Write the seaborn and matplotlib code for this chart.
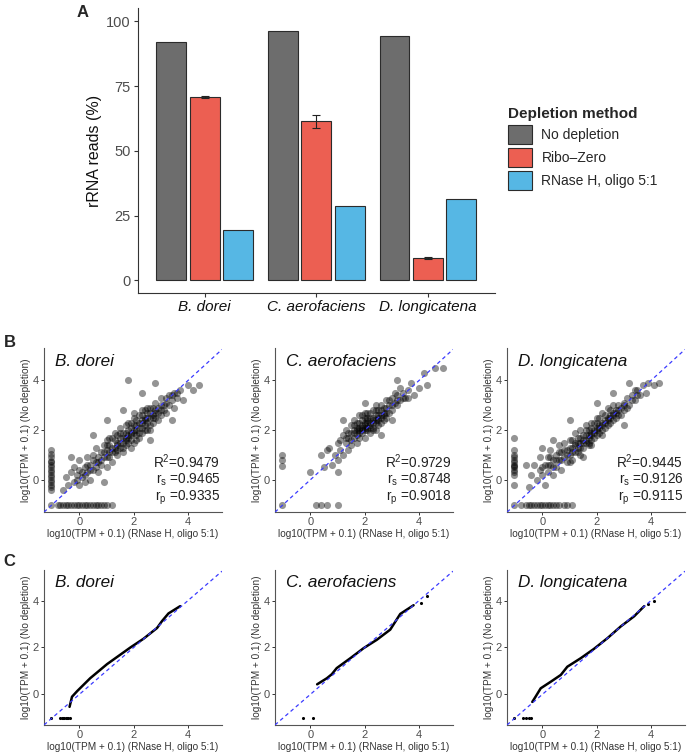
import numpy as np
import pandas as pd
import seaborn as sns
import matplotlib.pyplot as plt
from matplotlib.patches import Patch

sns.set_theme(style='ticks')
plt.rcParams['font.family'] = ['Liberation Sans', 'DejaVu Sans']
plt.rcParams['mathtext.fontset'] = 'custom'
plt.rcParams['mathtext.rm'] = 'Liberation Sans'
plt.rcParams['mathtext.it'] = 'Liberation Sans:italic'

# ---- Panel A data
species = ['B. dorei', 'C. aerofaciens', 'D. longicatena']
methods = ['No depletion', 'Ribo\u2013Zero', 'RNase H, oligo 5:1']
no_depl = [92.0, 96.2, 94.2]
ribo_zero = [70.8, 61.3, 8.7]
ribo_zero_err = [0.5, 2.7, 0.4]
rnase_h = [19.6, 28.8, 31.4]
colors = ['#6d6d6d', '#ec5f52', '#56b7e4']

# ---- Panel B data (read approx. from the picture)
bd_x = [-0.6, -0.5, -0.4, -0.3, -0.2, -0.2, -0.1, 0.0, 0.0, 0.0, 0.1, 0.2, 0.2, 0.3, 0.3, 0.4, 0.4, 0.5, 0.5, 0.6,
        0.6, 0.7, 0.7, 0.8, 0.8, 0.9, 0.9, 1.0, 1.0, 1.0, 1.1, 1.1, 1.2, 1.2, 1.2, 1.3, 1.3, 1.4, 1.4, 1.4,
        1.5, 1.5, 1.5, 1.6, 1.6, 1.6, 1.7, 1.7, 1.7, 1.8, 1.8, 1.8, 1.9, 1.9, 1.9, 2.0, 2.0, 2.0, 2.1, 2.1,
        2.1, 2.2, 2.2, 2.2, 2.3, 2.3, 2.3, 2.4, 2.4, 2.4, 2.5, 2.5, 2.5, 2.6, 2.6, 2.6, 2.7, 2.7, 2.8, 2.8,
        2.8, 2.9, 2.9, 3.0, 3.0, 3.0, 3.1, 3.2, 3.2, 3.3, 3.3, 3.4, 3.5, 3.5, 3.6, 3.7, 3.8, 4.0, 4.2, 4.4,
        1.8, 2.8, 1.0, 0.5, 2.3, 3.4, -0.3, 1.6, 2.6, 0.9,
        -1.05, -1.05, -1.05, -1.05, -1.05, -1.05, -1.05, -1.05, -1.05, -1.05, -1.05, -1.05, -1.05, -1.05, -1.05, -1.05,
        -0.8, -0.7, -0.6, -0.5, -0.4, -0.3, -0.2, -0.1, 0.0, 0.1, 0.2, 0.3, 0.4, 0.5, 0.6, 0.7, 0.8, 0.9, 1.0, 1.2, -1.05]
bd_y = [-0.4, 0.1, -0.2, 0.3, -0.1, 0.5, 0.2, -0.2, 0.4, 0.8, 0.1, 0.5, -0.1, 0.9, 0.3, 0.6, 0.0, 1.0, 0.4, 0.7,
        1.3, 0.3, 0.9, 1.1, 0.6, 1.4, 0.9, 0.5, 1.2, 1.6, 0.9, 1.4, 1.1, 1.7, 0.7, 1.3, 1.9, 1.0, 1.5, 1.2,
        1.7, 1.3, 2.1, 1.5, 1.1, 1.9, 1.7, 2.2, 1.4, 1.8, 1.5, 2.3, 1.9, 1.6, 2.1, 2.0, 1.5, 2.5, 2.2, 1.8,
        2.0, 2.3, 1.7, 2.6, 2.1, 2.4, 1.9, 2.5, 2.2, 2.8, 2.3, 2.0, 2.7, 2.5, 2.9, 2.2, 2.6, 2.3, 2.8, 2.5,
        3.1, 2.7, 2.4, 3.0, 2.6, 3.3, 2.8, 3.1, 2.7, 3.4, 3.0, 3.2, 3.5, 2.9, 3.3, 3.6, 3.2, 3.8, 3.6, 3.8,
        4.0, 3.9, 2.4, 1.8, 3.5, 2.4, 0.9, 2.8, 1.6, -0.1,
        -0.4, -0.3, -0.2, -0.1, 0.0, 0.1, 0.2, 0.3, 0.4, 0.5, 0.6, 0.7, 0.75, 0.9, 1.05, 1.2,
        -1.0, -1.0, -1.0, -1.0, -1.0, -1.0, -1.0, -1.0, -1.0, -1.0, -1.0, -1.0, -1.0, -1.0, -1.0, -1.0, -1.0, -1.0, -1.0, -1.0, -1.0]
bd_core_x = [0.2, 0.4, 0.6, 0.7, 0.8, 0.9, 1.0, 1.1, 1.2, 1.3, 1.3, 1.4, 1.5, 1.5, 1.6, 1.6, 1.7, 1.7, 1.8, 1.8,
             1.9, 1.9, 2.0, 2.0, 2.1, 2.1, 2.2, 2.2, 2.3, 2.3, 2.4, 2.4, 2.5, 2.5, 2.6, 2.6, 2.7, 2.7, 2.8, 2.9,
             3.0, 3.1, 3.2, 3.4, 3.6, 1.1, 0.5, 0.3, 1.4, 2.0, 0.1, -0.1, 1.9, 2.3, 1.0]
bd_core_y = [0.2, 0.4, 0.5, 0.7, 0.8, 1.1, 0.9, 1.1, 1.3, 1.1, 1.6, 1.4, 1.5, 1.9, 1.7, 1.3, 1.6, 1.9, 2.0, 1.7,
             1.8, 2.3, 2.2, 1.9, 2.4, 1.6, 2.1, 1.9, 2.3, 2.6, 2.4, 2.0, 2.5, 2.9, 2.7, 2.0, 2.9, 2.5, 2.7, 2.9,
             2.8, 3.0, 3.3, 3.4, 3.5, 1.7, 0.8, 0.6, 1.8, 2.7, 0.3, 0.0, 1.3, 2.8, 1.4]

ca_x = [0.0, 0.5, 0.4, 0.7, 0.8, 0.9, 1.0, 1.0, 1.1, 1.2, 1.2, 1.3, 1.3, 1.4, 1.4, 1.5, 1.5, 1.5, 1.6, 1.6,
        1.6, 1.7, 1.7, 1.7, 1.8, 1.8, 1.8, 1.8, 1.9, 1.9, 1.9, 2.0, 2.0, 2.0, 2.0, 2.1, 2.1, 2.1, 2.2, 2.2,
        2.2, 2.3, 2.3, 2.3, 2.4, 2.4, 2.4, 2.5, 2.5, 2.5, 2.6, 2.6, 2.6, 2.7, 2.7, 2.8, 2.8, 2.8, 2.9, 2.9,
        3.0, 3.0, 3.1, 3.1, 3.2, 3.2, 3.3, 3.3, 3.4, 3.5, 3.6, 3.7, 3.8, 4.0, 4.3, 4.6, 4.9, 4.2, 3.2, 1.2,
        2.0, 3.0, 0.6, 1.0, 2.6,
        -1.05, -1.05, -1.05, 0.2, 0.4, 0.6, 1.0, -1.05]
ca_y = [0.3, 0.5, 1.0, 1.3, 0.6, 1.0, 1.5, 0.8, 1.2, 1.8, 1.0, 1.5, 2.0, 1.2, 1.7, 1.9, 1.4, 2.2, 1.7, 2.0,
        2.4, 1.8, 2.1, 1.5, 2.0, 2.3, 1.7, 2.6, 2.1, 1.9, 2.4, 2.2, 2.0, 2.5, 1.7, 2.3, 2.1, 2.7, 2.2, 2.5,
        1.9, 2.4, 2.1, 2.8, 2.3, 2.6, 2.0, 2.5, 2.8, 2.2, 2.6, 3.0, 2.3, 2.7, 2.4, 2.9, 3.2, 2.5, 3.0, 2.7,
        3.3, 2.8, 3.1, 3.5, 3.0, 3.4, 3.2, 3.7, 3.5, 3.3, 3.6, 3.9, 3.4, 3.7, 3.8, 4.5, 4.5, 4.3, 4.0, 2.4,
        3.1, 2.4, 1.2, 0.3, 1.8,
        0.55, 0.8, 1.0, -1.0, -1.0, -1.0, -1.0, -1.0]
ca_core_x = [1.5, 1.6, 1.7, 1.7, 1.8, 1.8, 1.9, 1.9, 2.0, 2.0, 2.1, 2.1, 2.1, 2.2, 2.2, 2.2, 2.3, 2.3, 2.4, 2.4,
             2.5, 2.5, 2.6, 2.6, 2.7, 2.7, 2.8, 2.9, 3.0, 3.2, 1.4, 1.6, 1.9, 2.0, 2.3, 1.3, 1.1, 2.4, 3.4, 3.6]
ca_core_y = [1.6, 1.9, 2.0, 2.3, 2.1, 1.9, 2.2, 2.6, 2.3, 2.1, 2.4, 2.0, 2.5, 2.3, 2.1, 2.7, 2.5, 2.3, 2.4, 2.8,
             2.6, 2.4, 2.8, 2.5, 2.9, 2.6, 2.7, 3.2, 3.0, 3.2, 1.9, 2.2, 2.0, 2.7, 2.0, 1.7, 1.6, 3.0, 3.3, 3.3]

dl_x = [-0.5, -0.4, -0.3, -0.2, -0.1, -0.1, 0.0, 0.1, 0.1, 0.2, 0.2, 0.3, 0.3, 0.4, 0.4, 0.5, 0.5, 0.6, 0.6, 0.7,
        0.7, 0.8, 0.8, 0.9, 0.9, 1.0, 1.0, 1.1, 1.1, 1.2, 1.2, 1.2, 1.3, 1.3, 1.4, 1.4, 1.4, 1.5, 1.5, 1.6,
        1.6, 1.6, 1.7, 1.7, 1.7, 1.8, 1.8, 1.8, 1.9, 1.9, 2.0, 2.0, 2.0, 2.1, 2.1, 2.2, 2.2, 2.2, 2.3, 2.3,
        2.4, 2.4, 2.4, 2.5, 2.5, 2.6, 2.6, 2.7, 2.7, 2.8, 2.8, 2.9, 3.0, 3.0, 3.1, 3.2, 3.3, 3.4, 3.5, 3.6,
        3.7, 3.8, 3.9, 4.1, 4.3, 3.2, 2.6, 1.0, 0.4, 3.0, 2.0, 1.5, 0.0, -0.6,
        -1.05, -1.05, -1.05, -1.05, -1.05, -1.05, -1.05, -1.05, -1.05, -1.05, -1.05, -1.05, -1.05, -1.05,
        -0.8, -0.6, -0.5, -0.4, -0.3, -0.2, -0.1, 0.0, 0.1, 0.2, 0.3, 0.4, 0.5, 0.6, 0.8, 0.9, 1.1]
dl_y = [-0.3, 0.2, 0.6, 0.0, 0.4, 0.9, 0.2, 0.6, -0.2, 0.9, 0.3, 0.6, 1.2, 0.2, 0.8, 1.0, 0.5, 1.4, 0.8, 1.1,
        0.4, 0.9, 1.5, 1.2, 0.7, 1.0, 1.6, 1.3, 0.8, 1.5, 1.1, 1.9, 1.3, 1.7, 1.5, 1.0, 2.0, 1.6, 1.3, 1.8,
        1.5, 2.2, 1.7, 1.4, 2.0, 1.9, 1.6, 2.3, 2.0, 1.7, 2.1, 1.8, 2.5, 2.2, 1.9, 2.3, 2.0, 2.7, 2.4, 2.1,
        2.5, 2.2, 2.9, 2.6, 2.3, 2.7, 2.4, 2.8, 2.5, 3.0, 2.6, 2.9, 3.1, 2.8, 3.3, 3.0, 3.4, 3.2, 3.6, 3.4,
        3.8, 3.5, 3.9, 3.8, 3.9, 3.9, 3.5, 2.4, 1.6, 2.2, 3.1, 0.9, 1.3, 0.6,
        0.2, 0.3, 0.4, 0.5, 0.55, 0.6, 0.7, 0.8, 0.9, 1.0, 1.2, 1.7, -0.2, -1.0,
        -1.0, -1.0, -1.0, -1.0, -1.0, -1.0, -1.0, -1.0, -1.0, -1.0, -1.0, -1.0, -1.0, -1.0, -1.0, -1.0, -1.0]
dl_core_x = [0.0, 0.2, 0.4, 0.5, 0.6, 0.7, 0.8, 0.9, 1.0, 1.1, 1.1, 1.2, 1.3, 1.3, 1.4, 1.4, 1.5, 1.5, 1.6, 1.6,
             1.7, 1.7, 1.8, 1.8, 1.9, 1.9, 2.0, 2.0, 2.1, 2.1, 2.2, 2.2, 2.3, 2.3, 2.4, 2.5, 2.5, 2.6, 2.7, 2.8,
             2.9, 3.0, 3.1, 3.3, 3.5, 0.3, 1.0, 1.8, 2.6, 3.4]
dl_core_y = [0.5, 0.6, 0.5, 0.8, 1.1, 0.8, 1.2, 1.0, 1.3, 1.1, 1.6, 1.4, 1.5, 1.1, 1.7, 1.3, 1.8, 1.5, 1.6, 2.0,
             1.8, 1.5, 2.1, 1.8, 1.9, 2.3, 2.0, 2.3, 2.1, 2.5, 2.2, 1.8, 2.6, 2.3, 2.4, 2.5, 2.8, 2.6, 2.7, 2.8,
             2.6, 3.0, 2.9, 3.2, 3.4, 0.9, 0.7, 1.4, 3.0, 3.6]

stats_text = [('0.9479', '0.9465', '0.9335'), ('0.9729', '0.8748', '0.9018'), ('0.9445', '0.9126', '0.9115')]

# ---- Panel C data (quantile-quantile curves)
qq_bd_x = [-0.36, -0.27, -0.08, 0.4, 1.02, 1.88, 2.36, 2.86, 3.04, 3.28, 3.71]
qq_bd_y = [-0.53, -0.1, 0.14, 0.69, 1.29, 2.0, 2.37, 2.83, 3.12, 3.45, 3.76]
qq_bd_dots_x = [-1.05, -0.7, -0.65, -0.6, -0.55, -0.5, -0.45, -0.4, -0.35]
qq_bd_dots_y = [-1.0, -1.0, -1.0, -1.0, -1.0, -1.0, -1.0, -1.0, -1.0]
qq_ca_x = [0.25, 0.61, 0.79, 0.97, 1.47, 1.96, 2.45, 2.94, 3.31, 3.8]
qq_ca_y = [0.43, 0.69, 0.86, 1.12, 1.54, 1.97, 2.33, 2.76, 3.43, 3.8]
qq_ca_dots_x = [-0.27, 0.1, 4.06, 4.3]
qq_ca_dots_y = [-1.0, -1.0, 3.9, 4.2]
qq_dl_x = [-0.37, -0.25, -0.06, 0.31, 0.68, 0.92, 1.41, 1.9, 2.4, 2.89, 3.38, 3.75]
qq_dl_y = [-0.32, -0.1, 0.26, 0.54, 0.83, 1.18, 1.54, 1.94, 2.4, 2.9, 3.33, 3.76]
qq_dl_dots_x = [-1.05, -0.7, -0.6, -0.5, -0.4, 3.9, 4.1]
qq_dl_dots_y = [-1.0, -1.0, -1.0, -1.0, -1.0, 3.85, 3.97]

ink = '#333333'
tick_col = '#4d4d4d'

fig = plt.figure(figsize=(6.96, 7.52), dpi=100)

# ================= Panel A
axA = fig.add_axes([0.198, 0.610, 0.513, 0.379])
df = pd.DataFrame({
    'species': species * 3,
    'method': [methods[0]] * 3 + [methods[1]] * 3 + [methods[2]] * 3,
    'pct': no_depl + ribo_zero + rnase_h,
})
sns.barplot(data=df, x='species', y='pct', hue='method', hue_order=methods,
            palette=colors, edgecolor='#2b2b2b', linewidth=0.8, errorbar=None,
            width=0.9, gap=0.11, saturation=1, ax=axA, legend=False)
rz_bars = axA.containers[1]
rz_x = [b.get_x() + b.get_width() / 2 for b in rz_bars]
axA.errorbar(rz_x, ribo_zero, yerr=ribo_zero_err, fmt='none', ecolor='#222222',
             elinewidth=0.8, capsize=2.8, capthick=0.8)
axA.set_ylim(-5, 105)
axA.set_xlim(-0.6, 2.6)
axA.set_yticks([0, 25, 50, 75, 100])
axA.set_xlabel('')
axA.set_ylabel('rRNA reads (%)', fontsize=11.5, color='#111111', labelpad=3)
axA.tick_params(axis='y', labelsize=10.5, labelcolor=tick_col, color=ink, length=3, width=0.8, pad=2)
axA.tick_params(axis='x', labelsize=11, labelcolor='#111111', color=ink, length=3, width=0.8, pad=1.5)
for lab in axA.get_xticklabels():
    lab.set_fontstyle('italic')
sns.despine(ax=axA)
for s in ['left', 'bottom']:
    axA.spines[s].set_color(ink)
    axA.spines[s].set_linewidth(0.8)

handles = [Patch(facecolor=c, edgecolor='#2b2b2b', linewidth=0.8) for c in colors]
leg = fig.legend(handles, methods, loc='upper left', bbox_to_anchor=(0.722, 0.865),
                 frameon=False, title='Depletion method', fontsize=10,
                 title_fontproperties={'weight': 'bold', 'size': 11},
                 handlelength=1.7, handleheight=1.7, handletextpad=0.7, labelspacing=0.3,
                 borderaxespad=0)
leg._legend_box.align = 'left'

fig.text(0.118, 0.984, 'A', fontsize=12, fontweight='bold', ha='center', va='center')
fig.text(0.014, 0.545, 'B', fontsize=12, fontweight='bold', ha='center', va='center')
fig.text(0.014, 0.253, 'C', fontsize=12, fontweight='bold', ha='center', va='center')

lefts = [44 / 696, 275 / 696, 507 / 696]
w = 178 / 696


def style_small(ax, title):
    ax.set_xlim(-1.3, 5.25)
    ax.set_ylim(-1.3, 5.3)
    ax.set_xticks([0, 2, 4])
    ax.set_yticks([0, 2, 4])
    ax.axline((0, 0), slope=1, color='#3a3aff', lw=0.9, ls=(0, (3, 2.5)), zorder=3)
    ax.set_xlabel('log10(TPM + 0.1) (RNase H, oligo 5:1)', fontsize=7.2, color='#333333', labelpad=1.5)
    ax.set_ylabel('log10(TPM + 0.1) (No depletion)', fontsize=7.2, color='#333333', labelpad=1.5)
    ax.tick_params(labelsize=8, labelcolor=tick_col, color=ink, length=2.2, width=0.7, pad=1.5)
    sns.despine(ax=ax)
    for s in ['left', 'bottom']:
        ax.spines[s].set_color('#555555')
        ax.spines[s].set_linewidth(0.8)
    ax.text(0.06, 0.92, title, transform=ax.transAxes, fontsize=12.3, style='italic',
            ha='left', va='center', color='#111111')


# ================= Panel B
scatter_sets = [(bd_x + bd_core_x, bd_y + bd_core_y),
                (ca_x + ca_core_x, ca_y + ca_core_y),
                (dl_x + dl_core_x, dl_y + dl_core_y)]
for i, (sx, sy) in enumerate(scatter_sets):
    ax = fig.add_axes([lefts[i], 0.319, w, 0.218])
    sns.scatterplot(x=sx, y=sy, ax=ax, color='black', alpha=0.42, s=26, linewidth=0)
    style_small(ax, species[i])
    r2, rs, rp = stats_text[i]
    ax.text(0.99, 0.31, r'R$^2$=' + r2, transform=ax.transAxes, fontsize=9.8,
            ha='right', va='center', color='#222222')
    ax.text(0.99, 0.20, r'r$_\mathrm{s}$ =' + rs, transform=ax.transAxes, fontsize=9.8,
            ha='right', va='center', color='#222222')
    ax.text(0.99, 0.09, r'r$_\mathrm{p}$ =' + rp, transform=ax.transAxes, fontsize=9.8,
            ha='right', va='center', color='#222222')

# ================= Panel C
qq_sets = [(qq_bd_x, qq_bd_y, qq_bd_dots_x, qq_bd_dots_y),
           (qq_ca_x, qq_ca_y, qq_ca_dots_x, qq_ca_dots_y),
           (qq_dl_x, qq_dl_y, qq_dl_dots_x, qq_dl_dots_y)]
for i, (lx, ly, dx, dy) in enumerate(qq_sets):
    ax = fig.add_axes([lefts[i], 0.036, w, 0.206])
    sns.lineplot(x=lx, y=ly, ax=ax, color='black', lw=1.8, sort=False, estimator=None)
    sns.scatterplot(x=dx, y=dy, ax=ax, color='black', s=5, linewidth=0)
    style_small(ax, species[i])

fig.savefig('out.png', dpi=100)
